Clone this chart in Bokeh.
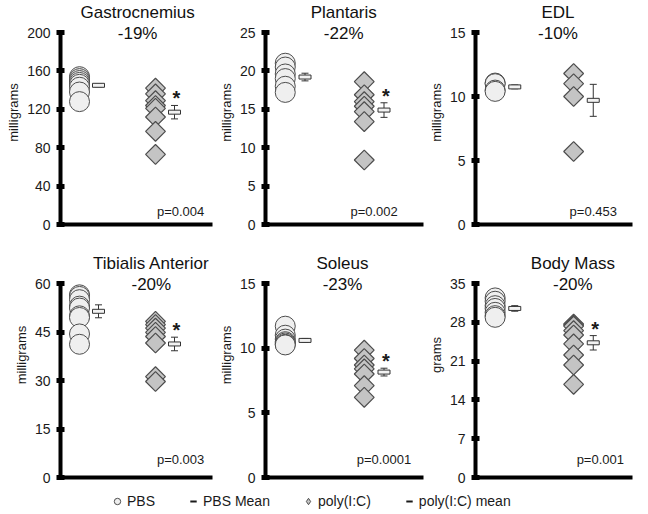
import numpy as np
from bokeh.plotting import figure
from bokeh.layouts import column, row
from bokeh.models import (Range1d, FixedTicker, Whisker, TeeHead, ColumnDataSource,
                          Legend, LegendItem)
from bokeh.core.properties import value
from bokeh.embed import file_html
from bokeh.resources import INLINE

# ---------------- data ----------------
titles = ["Gastrocnemius", "Plantaris", "EDL", "Tibialis Anterior", "Soleus", "Body Mass"]
changes = ["-19%", "-22%", "-10%", "-20%", "-23%", "-20%"]
p_values = ["p=0.004", "p=0.002", "p=0.453", "p=0.003", "p=0.0001", "p=0.001"]
significant = [True, True, False, True, True, True]
units = ["milligrams", "milligrams", "milligrams", "milligrams", "milligrams", "grams"]
y_max = [200, 25, 15, 60, 15, 35]
y_ticks = [[0, 40, 80, 120, 160, 200], [0, 5, 10, 15, 20, 25], [0, 5, 10, 15],
           [0, 15, 30, 45, 60], [0, 5, 10, 15], [0, 7, 14, 21, 28, 35]]

gastro_pbs = [154, 152, 150, 148, 146, 143, 138, 128]
gastro_poly = [142, 136, 129, 124, 121, 112, 97, 73]
plantaris_pbs = [21.0, 20.5, 19.6, 19.0, 18.0, 17.2]
plantaris_poly = [18.6, 16.9, 16.0, 15.4, 14.7, 13.4, 8.4]
edl_pbs = [11.05, 11.0, 10.5, 10.4]
edl_poly = [11.8, 11.0, 10.0, 5.7]
ta_pbs = [56.5, 56.0, 55.0, 53.0, 52.4, 50.0, 49.5, 44.4, 41.2]
ta_poly = [48.3, 47.3, 46.2, 44.9, 43.6, 41.6, 31.2, 29.7]
soleus_pbs = [11.7, 11.0, 10.7, 10.5, 10.4, 10.3, 10.25]
soleus_poly = [9.85, 9.2, 8.7, 8.4, 8.0, 7.1, 6.2]
body_pbs = [32.4, 31.8, 31.0, 30.5, 29.8, 29.2, 28.9]
body_poly = [27.7, 27.5, 27.3, 26.5, 25.7, 24.1, 22.1, 20.3, 16.8]

pbs_values = [gastro_pbs, plantaris_pbs, edl_pbs, ta_pbs, soleus_pbs, body_pbs]
poly_values = [gastro_poly, plantaris_poly, edl_poly, ta_poly, soleus_poly, body_poly]
pbs_mean = [145, 19.2, 10.75, 51.4, 10.6, 30.5]
pbs_sem = [1.5, 0.5, 0.15, 2.0, 0.15, 0.5]
poly_mean = [117, 14.9, 9.7, 41.3, 8.15, 24.3]
poly_sem = [7, 0.95, 1.25, 2.1, 0.3, 1.3]

# ---------------- layout / style ----------------
FONT = "Liberation Sans"
PBS_X, POLY_X, MEAN_DX = 0.5, 2.5, 0.5
title_x = [2.03, 1.98, 2.1, 2.39, 1.95, 2.48]
p_x = [3.16, 2.75, 3.0, 3.16, 3.0, 3.18]
col_w = [215, 210, 223]
col_left = [60, 48, 47]
col_right = [3, 2, 16]
row_h = [232, 253]
row_scale = [224 / 192, 245 / 194]
title_off = [2, 21]
p_off = [-13, -18]


def make_panel(i):
    r, c = divmod(i, 3)
    end = y_max[i] * row_scale[r]
    p = figure(width=col_w[c], height=row_h[r], output_backend="svg", toolbar_location=None,
               x_range=Range1d(0, 4), y_range=Range1d(0, end),
               min_border_left=col_left[c], min_border_right=col_right[c],
               min_border_top=0, min_border_bottom=8)
    p.outline_line_color = None
    p.grid.visible = False
    p.background_fill_color = "white"
    p.border_fill_color = "white"

    ya = p.yaxis[0]
    ya.ticker = FixedTicker(ticks=y_ticks[i])
    ya.bounds = (0, y_max[i])
    ya.axis_line_width = 4
    ya.axis_line_color = "black"
    ya.major_tick_in = 4
    ya.major_tick_out = 4
    ya.major_tick_line_width = 5
    ya.major_tick_line_color = "black"
    ya.minor_tick_line_color = None
    ya.major_label_text_font = FONT
    ya.major_label_text_font_size = "14px"
    ya.major_label_text_color = "#1a1a1a"
    ya.major_label_standoff = 6
    ya.axis_label = units[i]
    ya.axis_label_text_font = FONT
    ya.axis_label_text_font_size = "13px"
    ya.axis_label_text_font_style = "normal"
    ya.axis_label_text_color = "#1a1a1a"
    ya.axis_label_standoff = 3

    xa = p.xaxis[0]
    xa.ticker = FixedTicker(ticks=[])
    xa.axis_line_width = 4
    xa.axis_line_color = "black"
    xa.major_tick_out = 0
    xa.major_tick_in = 0
    xa.minor_tick_line_color = None
    xa.major_label_standoff = 0
    xa.major_label_text_font_size = "0px"

    pbs = pbs_values[i]
    poly = poly_values[i]
    p.scatter(x=[PBS_X] * len(pbs), y=pbs, marker="circle", size=20,
              fill_color="#EFEFEF", line_color="#4D4D4D", line_width=1)
    p.scatter(x=[POLY_X] * len(poly), y=poly, marker="square", angle=np.pi / 4, size=14,
              fill_color="#C4C4C4", line_color="#4D4D4D", line_width=1.2)

    mx = [PBS_X + MEAN_DX, POLY_X + MEAN_DX]
    my = [pbs_mean[i], poly_mean[i]]
    es = [pbs_sem[i], poly_sem[i]]
    src = ColumnDataSource(dict(x=mx, y=my,
                                upper=[m + e for m, e in zip(my, es)],
                                lower=[m - e for m, e in zip(my, es)]))
    w = Whisker(base="x", upper="upper", lower="lower", source=src, dimension="height",
                line_color="#333333", line_width=1,
                upper_head=TeeHead(size=7, line_color="#333333", line_width=1),
                lower_head=TeeHead(size=7, line_color="#333333", line_width=1))
    p.add_layout(w)
    p.rect(x="x", y="y", source=src, width=12, height=4, width_units="screen",
           height_units="screen", fill_color="#F2F2F2", line_color="#333333", line_width=1)

    p.text(x=[title_x[i]], y=[end], text=[titles[i] + "\n" + changes[i]],
           text_align="center", text_baseline="top", text_font=value(FONT),
           text_font_size="17px", text_color="#111111", text_line_height=1.15,
           y_offset=title_off[r])
    p.text(x=[p_x[i]], y=[0], text=[p_values[i]], text_align="center",
           text_baseline="middle", text_font=value(FONT), text_font_size="13px",
           text_color="#1a1a1a", y_offset=p_off[r])
    if significant[i]:
        p.text(x=[POLY_X + MEAN_DX + 0.05], y=[poly_mean[i] + poly_sem[i]], text=["*"],
               text_align="center", text_baseline="middle", text_font=value(FONT),
               text_font_size="20px", text_font_style="bold", text_color="#1a1a1a",
               y_offset=-7)
    return p


panels = [make_panel(i) for i in range(6)]

# ---------------- legend ----------------
legend_labels = ["PBS", "PBS Mean", "poly(I:C)", "poly(I:C) mean"]
lf = figure(width=648, height=29, output_backend="svg", toolbar_location=None,
            x_axis_type=None, y_axis_type=None, min_border=0,
            x_range=Range1d(0, 1), y_range=Range1d(0, 1))
lf.outline_line_color = None
lf.grid.visible = False
r1 = lf.scatter(x=[-10], y=[-10], marker="circle", fill_color="#EFEFEF", line_color="#4D4D4D")
r2 = lf.scatter(x=[-10], y=[-10], marker="dash", line_color="#1a1a1a", line_width=2)
r3 = lf.scatter(x=[-10], y=[-10], marker="diamond", fill_color="#C4C4C4",
                line_color="#4D4D4D")
r4 = lf.scatter(x=[-10], y=[-10], marker="dash", line_color="#1a1a1a", line_width=2)
legend = Legend(items=[LegendItem(label=l, renderers=[rr]) for l, rr in
                       zip(legend_labels, [r1, r2, r3, r4])],
                orientation="horizontal", location=(109, 5), spacing=30,
                glyph_width=16, glyph_height=16, label_height=16, label_standoff=2,
                padding=0, margin=0, border_line_color=None, background_fill_alpha=0,
                label_text_font=FONT, label_text_font_size="14px",
                label_text_color="#1a1a1a")
lf.add_layout(legend, "center")

layout = column(row(*panels[:3]), row(*panels[3:]), lf)
open("out.html", "w").write(file_html(layout, INLINE))
